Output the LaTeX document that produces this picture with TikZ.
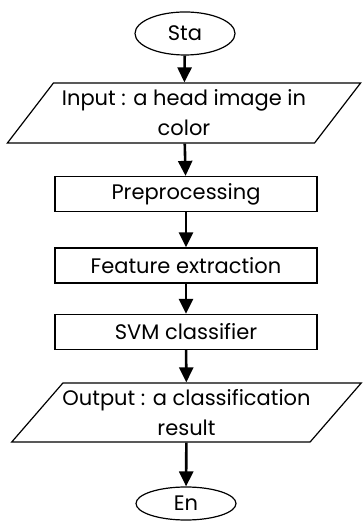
\documentclass[tikz,border=0pt]{standalone}
\usepackage{fontspec}
\setmainfont{Poppins}
\usetikzlibrary{shapes.geometric, arrows.meta}

\begin{document}
\begin{tikzpicture}[x=1pt, y=1pt,
    font=\fontsize{21}{30}\selectfont,
    term/.style={ellipse, draw, line width=1.2pt, minimum width=100pt, minimum height=38pt, inner sep=0pt},
    io/.style={trapezium, trapezium stretches=true, draw, line width=1.2pt, align=center, inner sep=0pt},
    proc/.style={rectangle, draw, line width=1.2pt, minimum width=262pt, minimum height=35pt, inner sep=0pt},
    flow/.style={-{Triangle[width=14pt, length=15pt]}, line width=2.6pt}]
    \useasboundingbox (0,0) rectangle (362,521);

    % Nodes
    \node[term, minimum height=43pt] (start) at (185,487.5) {Sta};
    \node[io, trapezium left angle=47, trapezium right angle=133,
          minimum width=354pt, minimum height=60pt] (input) at (184,408)
          {Input : a head image in\\color};
    \node[proc] (prep) at (186,327) {Preprocessing};
    \node[proc] (feat) at (186,255.5) {Feature extraction};
    \node[proc] (svm) at (186,189) {SVM classifier};
    \node[io, trapezium left angle=42, trapezium right angle=138,
          minimum width=351pt, minimum height=59pt] (output) at (186.5,108.5)
          {Output : a classification\\result};
    \node[term, minimum height=33pt] (end) at (186,17.5) {En};

    % Edges
    \draw[flow] (start) -- (input);
    \draw[flow] (input) -- (prep);
    \draw[flow] (prep) -- (feat);
    \draw[flow] (feat) -- (svm);
    \draw[flow] (svm) -- (output);
    \draw[flow] (output) -- (end);
\end{tikzpicture}
\end{document}
